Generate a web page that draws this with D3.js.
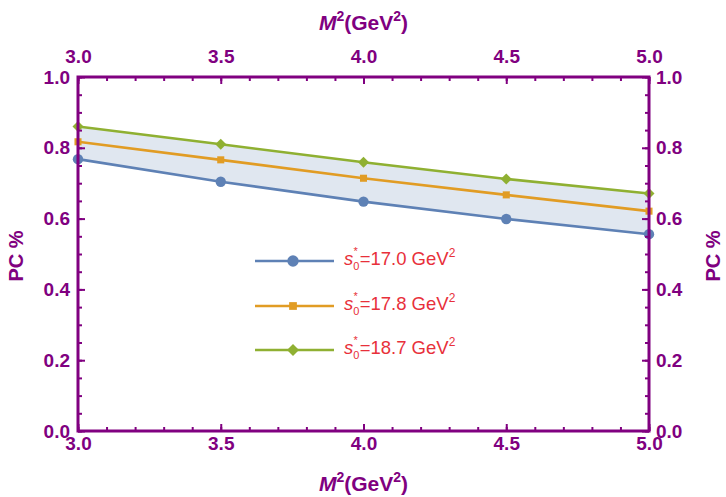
<!DOCTYPE html>
<html>
<head>
<meta charset="utf-8">
<script src="https://d3js.org/d3.v7.min.js"></script>
<style>
  body { margin: 0; background: #fff; }
  svg { font-family: "Liberation Sans", Arial, sans-serif; }
</style>
</head>
<body>
<svg id="chart" width="726" height="497"></svg>
<script>
const massSq = [3.0, 3.5, 4.0, 4.5, 5.0];
const pc170 = [0.768, 0.704, 0.648, 0.599, 0.556];
const pc178 = [0.817, 0.766, 0.714, 0.667, 0.621];
const pc187 = [0.860, 0.810, 0.759, 0.712, 0.671];
const seriesNames = ["17.0", "17.8", "18.7"];
const xTicks = [3.0, 3.5, 4.0, 4.5, 5.0];
const yTicks = [0.0, 0.2, 0.4, 0.6, 0.8, 1.0];

const purple = "#800080";
const colors = ["#5e81b5", "#e19c24", "#8fb032"];
const shapes = [d3.symbolCircle, d3.symbolSquare, d3.symbolSquare];
const sizes = [85, 50, 60];
const spins = [0, 0, 45];

const svg = d3.select("#chart");
const plotL = 78, plotR = 649, plotT = 77, plotB = 431;

const x = d3.scaleLinear().domain([3, 5]).range([plotL, plotR]);
const y = d3.scaleLinear().domain([0, 1]).range([plotB, plotT]);

const series = [pc170, pc178, pc187].map((vals, i) => ({
  name: seriesNames[i],
  color: colors[i],
  shape: shapes[i],
  size: sizes[i],
  spin: spins[i],
  points: massSq.map((m, j) => ({ m, v: vals[j] }))
}));

// band between lowest and highest curve
const band = d3.area()
  .x((d, i) => x(massSq[i]))
  .y0((d, i) => y(pc170[i]))
  .y1((d, i) => y(pc187[i]));
svg.append("path")
  .datum(massSq)
  .attr("d", band)
  .attr("fill", "#e0e7f0");

const line = d3.line().x(d => x(d.m)).y(d => y(d.v));

series.forEach(s => {
  svg.append("path")
    .datum(s.points)
    .attr("d", line)
    .attr("fill", "none")
    .attr("stroke", s.color)
    .attr("stroke-width", 2.6);
  svg.selectAll(null)
    .data(s.points)
    .enter()
    .append("path")
    .attr("d", d3.symbol().type(s.shape).size(s.size))
    .attr("transform", d => `translate(${x(d.m)},${y(d.v)}) rotate(${s.spin})`)
    .attr("fill", s.color);
});

// axes on all four sides, ticks pointing inward
const xMinor = d3.range(3, 5.0001, 0.1);
const yMinor = d3.range(0, 1.0001, 0.05);

function styleAxis(g) {
  g.selectAll(".domain").remove();
  g.selectAll(".tick line").attr("stroke", purple).attr("stroke-width", 2);
  g.selectAll(".tick text")
    .attr("fill", purple)
    .attr("font-size", 19)
    .attr("font-weight", "bold")
    .attr("font-family", "Liberation Sans, Arial, sans-serif");
}

const fmt = d3.format(".1f");

// minor ticks
svg.append("g").attr("transform", `translate(0,${plotB})`)
  .call(d3.axisBottom(x).tickValues(xMinor).tickSize(-4).tickFormat(""))
  .call(styleAxis);
svg.append("g").attr("transform", `translate(0,${plotT})`)
  .call(d3.axisTop(x).tickValues(xMinor).tickSize(-4).tickFormat(""))
  .call(styleAxis);
svg.append("g").attr("transform", `translate(${plotL},0)`)
  .call(d3.axisLeft(y).tickValues(yMinor).tickSize(-4).tickFormat(""))
  .call(styleAxis);
svg.append("g").attr("transform", `translate(${plotR},0)`)
  .call(d3.axisRight(y).tickValues(yMinor).tickSize(-4).tickFormat(""))
  .call(styleAxis);

// major ticks with labels
svg.append("g").attr("transform", `translate(0,${plotB})`)
  .call(d3.axisBottom(x).tickValues(xTicks).tickSize(-7).tickPadding(6).tickFormat(fmt))
  .call(styleAxis);
svg.append("g").attr("transform", `translate(0,${plotT})`)
  .call(d3.axisTop(x).tickValues(xTicks).tickSize(-7).tickPadding(14).tickFormat(fmt))
  .call(styleAxis);
svg.append("g").attr("transform", `translate(${plotL},0)`)
  .call(d3.axisLeft(y).tickValues(yTicks).tickSize(-7).tickPadding(8).tickFormat(fmt))
  .call(styleAxis);
svg.append("g").attr("transform", `translate(${plotR},0)`)
  .call(d3.axisRight(y).tickValues(yTicks).tickSize(-7).tickPadding(7).tickFormat(fmt))
  .call(styleAxis);

// frame
svg.append("rect")
  .attr("x", plotL).attr("y", plotT)
  .attr("width", plotR - plotL).attr("height", plotB - plotT)
  .attr("fill", "none")
  .attr("stroke", purple)
  .attr("stroke-width", 3);

// axis titles
function massTitle(yPos) {
  const t = svg.append("text")
    .attr("x", (plotL + plotR) / 2).attr("y", yPos)
    .attr("text-anchor", "middle")
    .attr("fill", purple)
    .attr("font-size", 21)
    .attr("font-weight", "bold");
  t.append("tspan").attr("font-style", "italic").text("M");
  t.append("tspan").attr("font-size", 14).attr("dy", -9).text("2");
  t.append("tspan").attr("dy", 9).text("(GeV");
  t.append("tspan").attr("font-size", 14).attr("dy", -9).text("2");
  t.append("tspan").attr("dy", 9).text(")");
}
massTitle(30);
massTitle(491);

function pcTitle(xPos) {
  svg.append("text")
    .attr("transform", `translate(${xPos},${(plotT + plotB) / 2 + 2}) rotate(-90)`)
    .attr("text-anchor", "middle")
    .attr("fill", purple)
    .attr("font-size", 20)
    .attr("font-weight", "bold")
    .text("PC %");
}
pcTitle(23);
pcTitle(720);

// legend
const legend = svg.append("g");
const legendY = [261, 306, 350];
series.forEach((s, i) => {
  const ly = legendY[i];
  legend.append("line")
    .attr("x1", 255).attr("x2", 334)
    .attr("y1", ly).attr("y2", ly)
    .attr("stroke", s.color).attr("stroke-width", 2.6);
  legend.append("path")
    .attr("d", d3.symbol().type(s.shape).size(s.size * 1.2))
    .attr("transform", `translate(293,${ly}) rotate(${s.spin})`)
    .attr("fill", s.color);
  const t = legend.append("text")
    .attr("x", 344).attr("y", ly + 4)
    .attr("fill", "#e8303a")
    .attr("font-size", 18.5);
  t.append("tspan").attr("font-style", "italic").text("s");
  t.append("tspan").attr("font-size", 11).attr("dy", 5).text("0");
  t.append("tspan").attr("font-size", 11).attr("dx", -6).attr("dy", -15).text("*");
  t.append("tspan").attr("dx", 2).attr("dy", 10).text(`=${s.name} GeV`);
  t.append("tspan").attr("font-size", 12).attr("dy", -8).text("2");
});
</script>
</body>
</html>
